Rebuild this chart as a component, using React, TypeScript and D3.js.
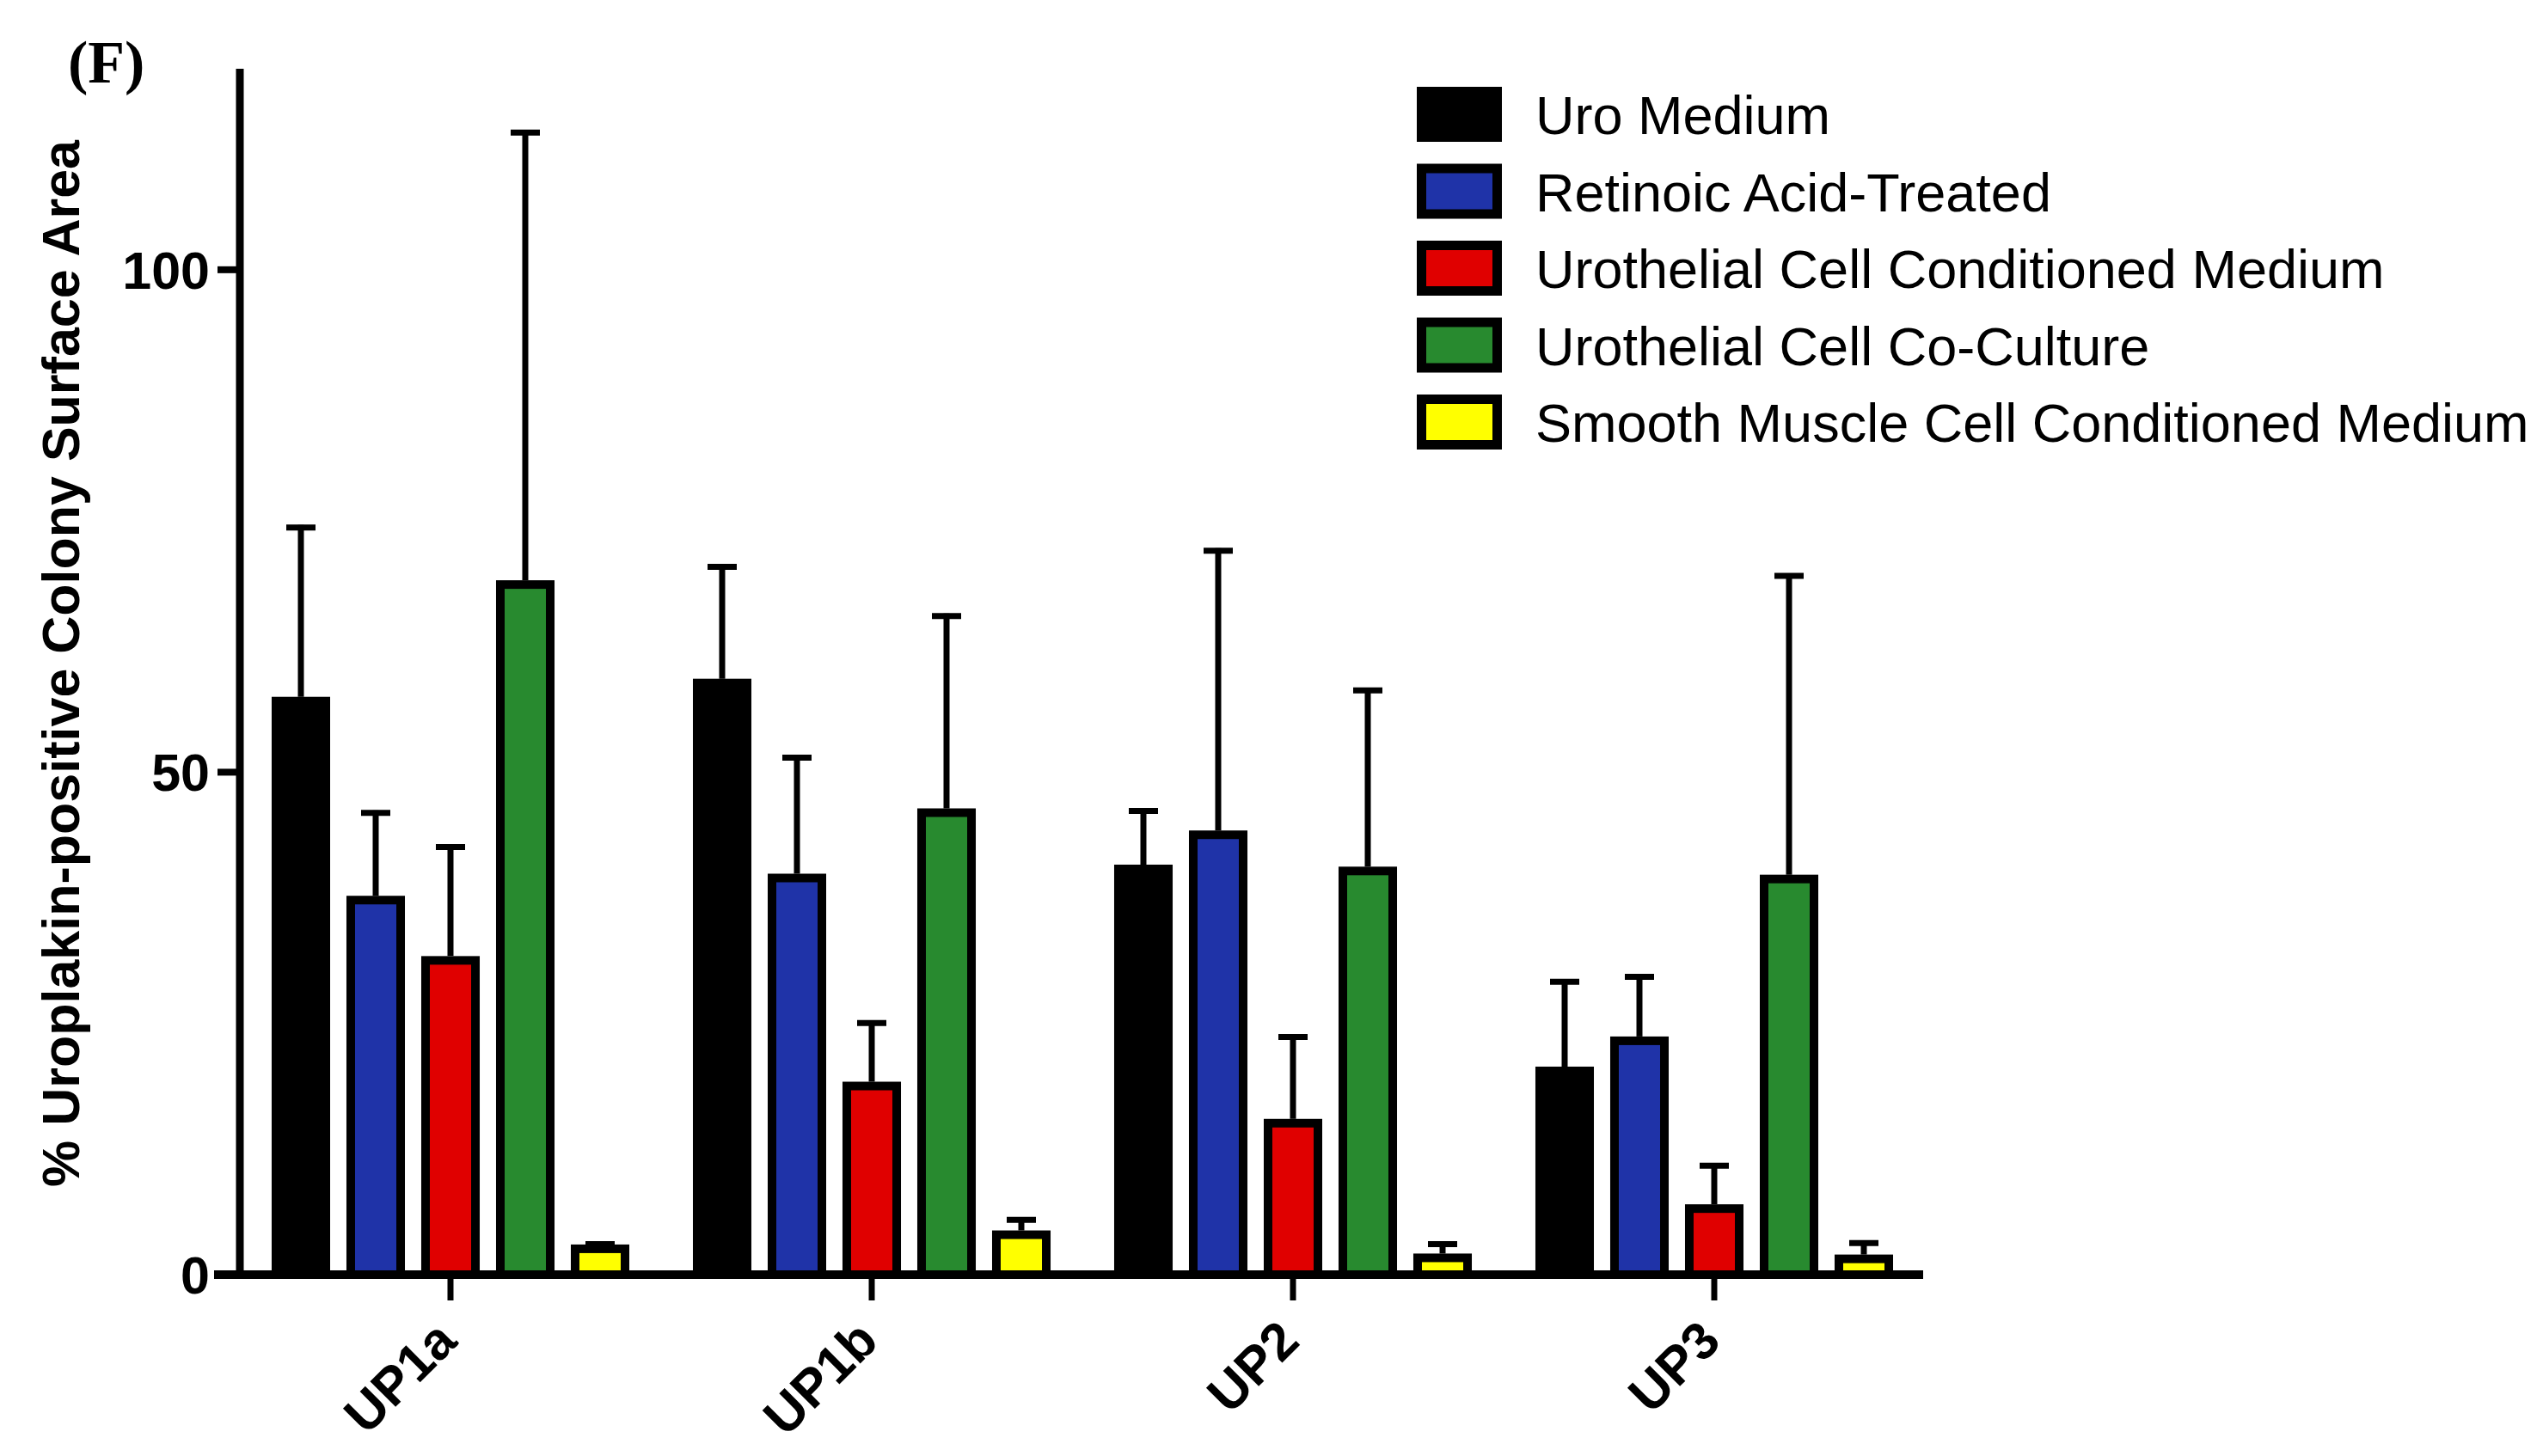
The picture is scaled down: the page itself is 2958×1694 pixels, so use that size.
import * as d3 from "d3";

const categories = ["UP1a", "UP1b", "UP2", "UP3"];
const series = [
  "Uro Medium",
  "Retinoic Acid-Treated",
  "Urothelial Cell Conditioned Medium",
  "Urothelial Cell Co-Culture",
  "Smooth Muscle Cell Conditioned Medium",
];
const colors = ["#000000", "#1f33a8", "#e00000", "#288a2f", "#ffff00"];

// mean values per series, in category order
const uroMedium = [57.5, 59.3, 40.8, 20.7];
const retinoic = [37.7, 39.9, 44.2, 23.7];
const uroCondMedium = [31.7, 19.2, 15.5, 7.0];
const coCulture = [69.1, 46.4, 40.6, 39.8];
const smoothMuscle = [3.0, 4.4, 2.1, 2.0];

// top of the error bar (mean + SD)
const uroMediumErr = [74.6, 70.7, 46.4, 29.4];
const retinoicErr = [46.2, 51.7, 72.3, 29.9];
const uroCondMediumErr = [42.8, 25.3, 23.9, 11.1];
const coCultureErr = [113.9, 65.8, 58.4, 69.8];
const smoothMuscleErr = [3.3, 5.7, 3.3, 3.4];

const yTicks = [0, 50, 100];

const means = [uroMedium, retinoic, uroCondMedium, coCulture, smoothMuscle];
const errs = [uroMediumErr, retinoicErr, uroCondMediumErr, coCultureErr, smoothMuscleErr];

const W = 2958;
const H = 1694;
const sans = "'Liberation Sans', Arial, Helvetica, sans-serif";

export default function App() {
  const y = d3.scaleLinear().domain([0, 120]).range([1483, 80]);
  const x0 = d3.scaleBand<string>().domain(categories).range([279, 2239]).padding(0);
  const x1 = d3
    .scaleBand<number>()
    .domain(d3.range(series.length))
    .range([-217.5, 217.5])
    .paddingInner(0.218)
    .paddingOuter(0.109);

  const bw = x1.bandwidth();
  const sw = 10;
  const y0 = y(0);

  return (
    <div style={{ position: "absolute", left: 0, top: 0 }}>
      <svg width={W} height={H} style={{ display: "block", background: "#fff" }}>
        <text
          x={79}
          y={96}
          fontFamily="'Liberation Serif', 'Times New Roman', serif"
          fontWeight="bold"
          fontSize={70}
        >
          (F)
        </text>

        {/* y axis label */}
        <text
          transform={`translate(92,772) rotate(-90)`}
          textAnchor="middle"
          fontFamily={sans}
          fontWeight="bold"
          fontSize={61}
        >
          % Uroplakin-positive Colony Surface Area
        </text>

        {/* bars */}
        {categories.map((cat, ci) => {
          const cx = x0(cat)! + x0.bandwidth() / 2;
          return (
            <g key={cat}>
              {series.map((s, si) => {
                const v = means[si][ci];
                const e = errs[si][ci];
                const left = cx + x1(si)!;
                const mid = left + bw / 2;
                return (
                  <g key={s}>
                    <line
                      x1={mid}
                      x2={mid}
                      y1={y(v)}
                      y2={y(e)}
                      stroke="#000"
                      strokeWidth={7}
                    />
                    <line
                      x1={mid - 17}
                      x2={mid + 17}
                      y1={y(e) + 3}
                      y2={y(e) + 3}
                      stroke="#000"
                      strokeWidth={7}
                    />
                    <rect
                      x={left + sw / 2}
                      y={y(v) + sw / 2}
                      width={bw - sw}
                      height={Math.max(0, y0 - y(v) - sw / 2)}
                      fill={colors[si]}
                      stroke="#000"
                      strokeWidth={sw}
                    />
                  </g>
                );
              })}
            </g>
          );
        })}

        {/* y axis */}
        <line x1={279} x2={279} y1={y(120)} y2={y0 + 4} stroke="#000" strokeWidth={9} />
        {yTicks.map((t) => (
          <g key={t}>
            <line x1={253} x2={279} y1={y(t)} y2={y(t)} stroke="#000" strokeWidth={8} />
            <text
              x={244}
              y={y(t) + 22}
              textAnchor="end"
              fontFamily={sans}
              fontWeight="bold"
              fontSize={61}
            >
              {t}
            </text>
          </g>
        ))}

        {/* x axis */}
        <line x1={249} x2={2237} y1={y0} y2={y0} stroke="#000" strokeWidth={10} />
        {categories.map((cat) => {
          const cx = x0(cat)! + x0.bandwidth() / 2;
          return (
            <g key={cat}>
              <line x1={cx} x2={cx} y1={y0} y2={y0 + 30} stroke="#000" strokeWidth={7} />
              <text
                transform={`translate(${cx + 10},${y0 + 80}) rotate(-45)`}
                textAnchor="end"
                fontFamily={sans}
                fontWeight="bold"
                fontSize={61}
              >
                {cat}
              </text>
            </g>
          );
        })}

        {/* legend */}
        {series.map((s, si) => {
          const cy = 133 + si * 89.5;
          return (
            <g key={s}>
              <rect
                x={1648 + 5.5}
                y={cy - 32 + 5.5}
                width={99 - 11}
                height={64 - 11}
                fill={colors[si]}
                stroke="#000"
                strokeWidth={11}
              />
              <text x={1786} y={cy + 23} fontFamily={sans} fontSize={63}>
                {s}
              </text>
            </g>
          );
        })}
      </svg>
    </div>
  );
}
